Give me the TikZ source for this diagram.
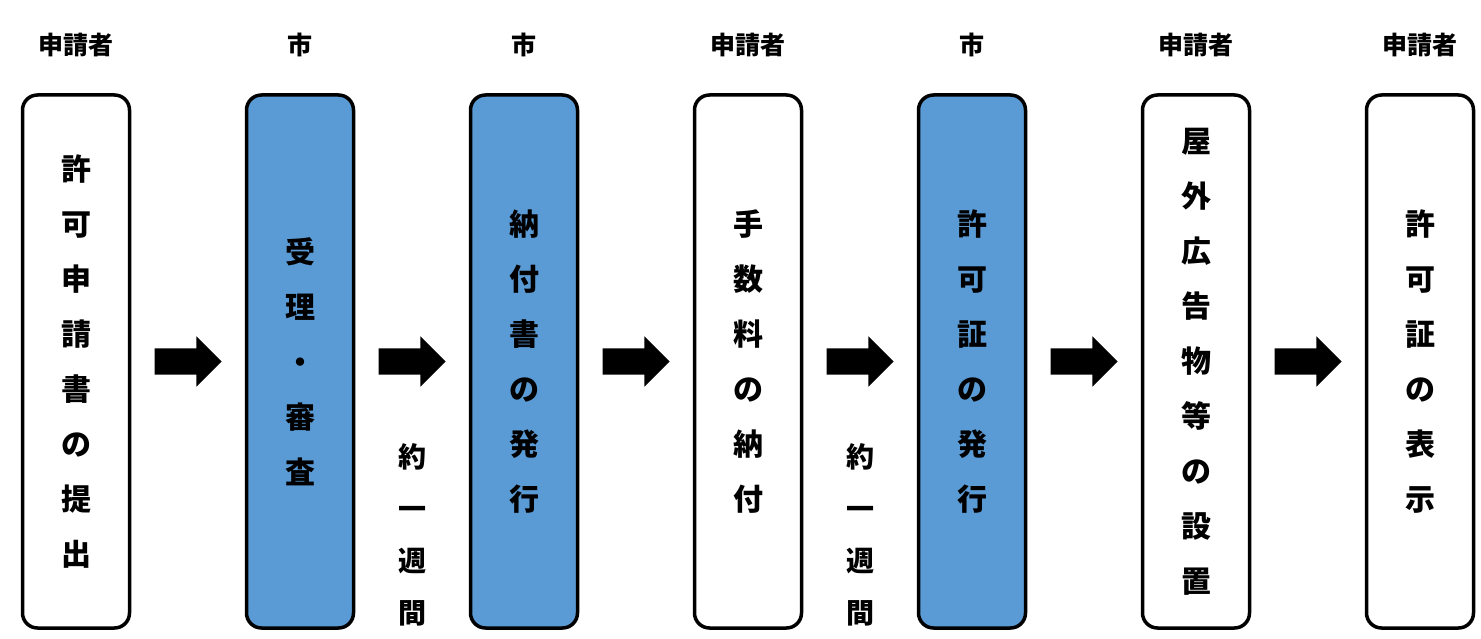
\documentclass[tikz,border=0pt]{standalone}
\usepackage{fontspec}
\setmainfont{Noto Sans CJK JP}
\usetikzlibrary{shapes.arrows, calc}
\definecolor{cityblue}{HTML}{5B9BD5}
\tikzstyle{whitebox} = [rectangle, rounded corners=15pt, minimum width=107pt, minimum height=533pt, line width=3.5pt, draw=black, fill=white, align=center, font=\bfseries\fontsize{30}{55}\selectfont]
\tikzstyle{bluebox} = [whitebox, fill=cityblue]
\tikzstyle{whotext} = [font=\bfseries\fontsize{25}{28}\selectfont]
\tikzstyle{weektext} = [align=center, font=\bfseries\fontsize{28}{52}\selectfont]
\tikzstyle{blockarrow} = [single arrow, fill=black, inner xsep=0pt, inner ysep=13pt, text height=0pt, text depth=0pt, minimum height=67pt, minimum width=50pt, single arrow head extend=12pt, xshift=-6.5pt]

\begin{document}
\begin{tikzpicture}[x=1pt, y=1pt, node distance=224pt]
      \useasboundingbox (0,0) rectangle (1481,638);
      \node (step1) [whitebox] at (76,276.5) {許\\可\\申\\請\\書\\の\\提\\出};
      \node (step2) [bluebox, right of=step1] {受\\理\\・\\審\\査};
      \node (step3) [bluebox, right of=step2] {納\\付\\書\\の\\発\\行};
      \node (step4) [whitebox, right of=step3] {手\\数\\料\\の\\納\\付};
      \node (step5) [bluebox, right of=step4] {許\\可\\証\\の\\発\\行};
      \node (step6) [whitebox, right of=step5] {屋\\外\\広\\告\\物\\等\\の\\設\\置};
      \node (step7) [whitebox, right of=step6] {許\\可\\証\\の\\表\\示};
      \node (who1) [whotext] at ($(step1.north)+(0,48)$) {申請者};
      \node (who2) [whotext] at ($(step2.north)+(0,48)$) {市};
      \node (who3) [whotext] at ($(step3.north)+(0,48)$) {市};
      \node (who4) [whotext] at ($(step4.north)+(0,48)$) {申請者};
      \node (who5) [whotext] at ($(step5.north)+(0,48)$) {市};
      \node (who6) [whotext] at ($(step6.north)+(0,48)$) {申請者};
      \node (who7) [whotext] at ($(step7.north)+(0,48)$) {申請者};
      \node (arr1) [blockarrow] at ($(step1)!0.5!(step2)$) {};
      \node (arr2) [blockarrow] at ($(step2)!0.5!(step3)$) {};
      \node (arr3) [blockarrow] at ($(step3)!0.5!(step4)$) {};
      \node (arr4) [blockarrow] at ($(step4)!0.5!(step5)$) {};
      \node (arr5) [blockarrow] at ($(step5)!0.5!(step6)$) {};
      \node (arr6) [blockarrow] at ($(step6)!0.5!(step7)$) {};
      \node (week1) [weektext] at ($(step2)!0.5!(step3)+(0,-173)$) {約\\一\\週\\間};
      \node (week2) [weektext] at ($(step4)!0.5!(step5)+(0,-173)$) {約\\一\\週\\間};
    \end{tikzpicture}
\end{document}
